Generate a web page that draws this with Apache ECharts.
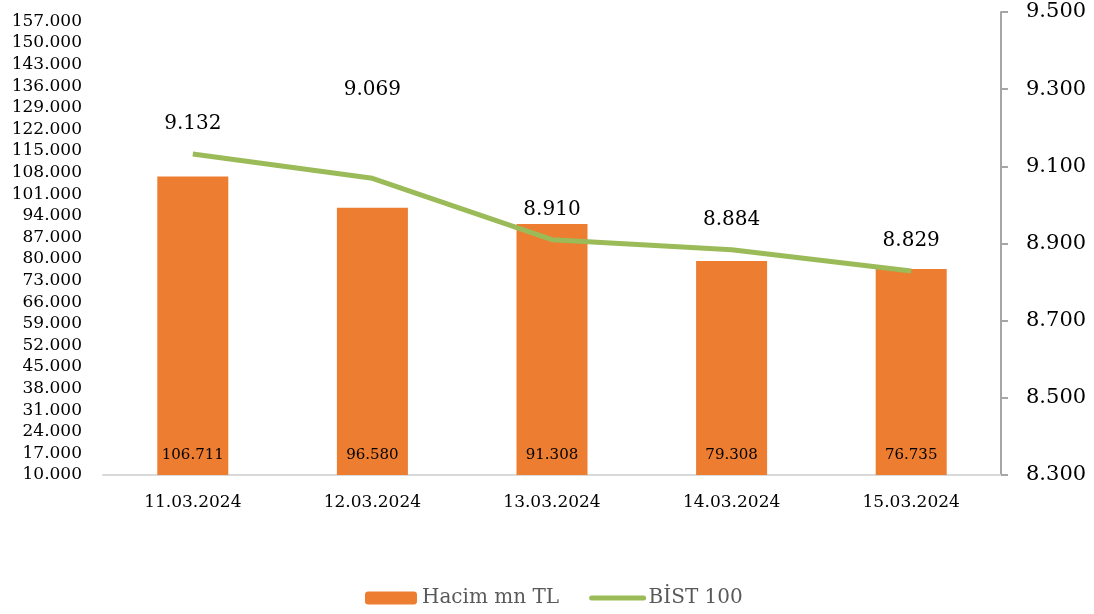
<!DOCTYPE html>
<html><head><meta charset="utf-8">
<script src="https://cdn.jsdelivr.net/npm/echarts@6/dist/echarts.min.js"></script>
<style>html,body{margin:0;padding:0;background:#fff}#c{width:1094px;height:614px}</style>
</head><body><div id="c"></div>
<script>
const categories = ['11.03.2024','12.03.2024','13.03.2024','14.03.2024','15.03.2024'];
const volume = [106711, 96580, 91308, 79308, 76735];
const bist = [9132, 9069, 8910, 8884, 8829];
const volumeName = 'Hacim mn TL';
const bistName = 'BİST 100';

const fmt = n => String(Math.round(n)).replace(/\B(?=(\d{3})+(?!\d))/g, '.');
const FONT = 'DejaVu Serif';

const chart = echarts.init(document.getElementById('c'));
chart.setOption({
  animation: false,
  textStyle: { fontFamily: FONT },
  grid: { left: 103, right: 93, top: 12, bottom: 139 },
  legend: {
    bottom: 1, left: 360, itemGap: 30, itemWidth: 52, itemHeight: 13,
    textStyle: { fontFamily: FONT, fontSize: 20, color: '#595959' },
    data: [volumeName, { name: bistName, itemStyle: { opacity: 0 }, lineStyle: { width: 5, cap: 'round' } }]
  },
  xAxis: {
    type: 'category', data: categories,
    axisLine: { lineStyle: { color: '#d9d9d9', width: 2 } },
    axisTick: { show: false },
    axisLabel: { fontFamily: FONT, fontSize: 17, color: '#000', margin: 19 }
  },
  yAxis: [{
    type: 'value', min: 10000, max: 160000, interval: 7000, position: 'left',
    axisLine: { show: false }, axisTick: { show: false }, splitLine: { show: false },
    axisLabel: { fontFamily: FONT, fontSize: 17, color: '#000', margin: 21, showMaxLabel: false, formatter: fmt }
  }, {
    type: 'value', min: 8300, max: 9500, interval: 200, position: 'right',
    axisLine: { show: true, lineStyle: { color: '#a6a6a6', width: 2 } },
    axisTick: { show: true, inside: false, length: 7, lineStyle: { color: '#a6a6a6', width: 2 } },
    splitLine: { show: false },
    axisLabel: { fontFamily: FONT, fontSize: 21, color: '#000', margin: 25, formatter: fmt }
  }],
  series: [{
    name: volumeName, type: 'bar', yAxisIndex: 0, data: volume, barWidth: 71,
    itemStyle: { color: '#ED7D31' },
    label: { show: true, position: 'insideBottom', distance: 12, fontFamily: FONT, fontSize: 15, color: '#000', formatter: p => fmt(p.value) }
  }, {
    name: bistName, type: 'line', yAxisIndex: 1, data: bist.map((v, i) => i === 1 ? { value: v, label: { offset: [0, -58] } } : v),
    showSymbol: true, symbol: 'circle', symbolSize: 0.1,
    lineStyle: { color: '#9BBB59', width: 5 }, itemStyle: { color: '#9BBB59' },
    label: { show: true, position: 'top', distance: 20, fontFamily: FONT, fontSize: 20, color: '#000', formatter: p => fmt(p.value) }
  }]
});
</script></body></html>
